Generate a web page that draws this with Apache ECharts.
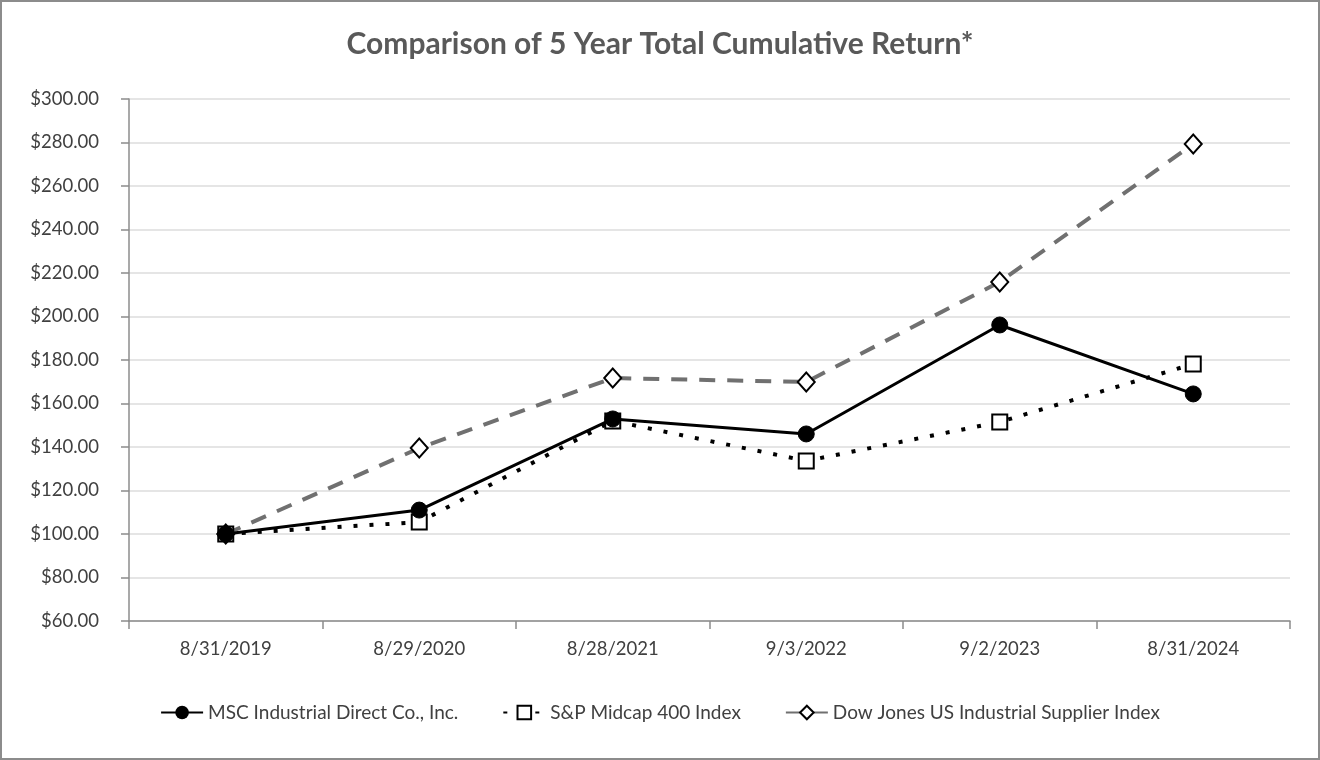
<!DOCTYPE html>
<html><head><meta charset="utf-8">
<script src="https://cdn.jsdelivr.net/npm/echarts@6/dist/echarts.min.js"></script>
<style>html,body{margin:0;padding:0;background:#fff}#c{width:1320px;height:760px;box-sizing:border-box;border:2px solid #8c8c8c}</style>
</head><body><div id="c"></div>
<script>
const categories = ['8/31/2019','8/29/2020','8/28/2021','9/3/2022','9/2/2023','8/31/2024'];
const msc = [100.0, 111.0, 152.9, 146.0, 196.1, 164.4];
const sp400 = [100.0, 105.5, 152.0, 133.6, 151.5, 178.2];
const djus = [100.0, 139.5, 171.7, 169.9, 215.9, 279.3];
const seriesNames = ['MSC Industrial Direct Co., Inc.', 'S&P Midcap 400 Index', 'Dow Jones US Industrial Supplier Index'];
const yMin = 60, yMax = 300, yStep = 20;

const font = 'Lato, "Open Sans", sans-serif';
const chart = echarts.init(document.getElementById('c'));
chart.setOption({
  animation: false,
  title: { text: 'Comparison of 5 Year Total Cumulative Return*', left: 'center', top: 22,
    textStyle: { fontFamily: font, fontSize: 30, fontWeight: 'bold', color: '#595959' } },
  grid: { left: 127, right: 28, top: 97, bottom: 137 },
  legend: { bottom: 31, left: 'center', itemGap: 44, itemWidth: 42, itemHeight: 17,
    textStyle: { fontFamily: font, fontSize: 19, color: '#404040' },
    data: seriesNames },
  xAxis: { type: 'category', data: categories, boundaryGap: true,
    axisLine: { lineStyle: { color: '#8c8c8c', width: 1.5 } },
    axisTick: { show: true, length: 8, lineStyle: { color: '#8c8c8c', width: 1.5 } },
    axisLabel: { fontFamily: font, fontSize: 18.5, color: '#404040', margin: 19 } },
  yAxis: { type: 'value', min: yMin, max: yMax, interval: yStep,
    axisLine: { show: true, lineStyle: { color: '#8c8c8c', width: 1.5 } },
    axisTick: { show: true, length: 8, lineStyle: { color: '#8c8c8c', width: 1.5 } },
    splitLine: { lineStyle: { color: '#dcdcdc', width: 1.5 } },
    axisLabel: { fontFamily: font, fontSize: 18.5, color: '#404040', margin: 30,
      formatter: v => '$' + v.toFixed(2) } },
  series: [
    { name: seriesNames[0], type: 'line', data: msc, symbol: 'circle', symbolSize: 16, z: 4,
      lineStyle: { color: '#000', width: 3 }, itemStyle: { color: '#000', borderColor: '#000' } },
    { name: seriesNames[1], type: 'line', data: sp400, symbol: 'rect', symbolSize: 15, z: 3,
      lineStyle: { color: '#000', width: 4, type: [4, 12] },
      itemStyle: { color: '#fff', borderColor: '#000', borderWidth: 2 } },
    { name: seriesNames[2], type: 'line', data: djus, symbol: 'diamond', symbolSize: [17, 19], z: 2,
      lineStyle: { color: '#707070', width: 4, type: [16, 12] },
      itemStyle: { color: '#fff', borderColor: '#000', borderWidth: 2 } }
  ]
});
</script></body></html>
